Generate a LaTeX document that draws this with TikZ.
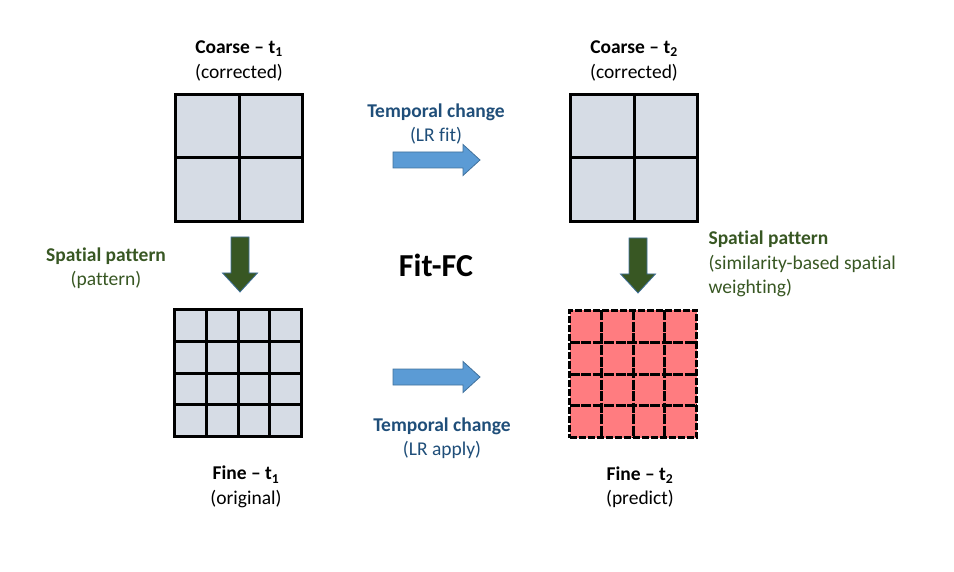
\documentclass[tikz,border=0pt]{standalone}
\usepackage{fontspec}
\setmainfont{Carlito}[Ligatures={NoCommon}]
\usetikzlibrary{calc}

\definecolor{cellgray}{HTML}{D6DCE5}
\definecolor{cellred}{HTML}{FF7C80}
\definecolor{tempblue}{HTML}{1F4E79}
\definecolor{spatgreen}{HTML}{385723}
\definecolor{arrowblue}{HTML}{5B9BD5}
\definecolor{arrowedge}{HTML}{41719C}

\tikzset{
  gridbox/.style={draw, line width=3pt, minimum size=127pt, inner sep=0pt, outer sep=0pt, fill=cellgray},
  predbox/.style={gridbox, fill=cellred, dash pattern=on 7pt off 2pt},
  gridline/.style={line width=3pt},
  lbl/.style={align=center, font=\fontsize{19.5}{24.5}\selectfont},
  templbl/.style={lbl, text=tempblue},
  spatlbl/.style={lbl, text=spatgreen},
  bluearrow/.style={fill=arrowblue, draw=arrowedge, line width=0.8pt},
  greenarrow/.style={fill=spatgreen, draw=arrowedge, line width=0.8pt},
}

\begin{document}
\begin{tikzpicture}[x=1pt,y=-1pt]
  \useasboundingbox (0,0) rectangle (954,572);

  % the four grids
  \node[gridbox] (coarse1) at (239,158) {};
  \node[gridbox] (coarse2) at (634,158) {};
  \node[gridbox] (fine1) at (238,373) {};
  \node[predbox] (fine2) at (633,374) {};

  \draw[gridline] (coarse1.north) -- (coarse1.south);
  \draw[gridline] (coarse1.west) -- (coarse1.east);
  \draw[gridline] (coarse2.north) -- (coarse2.south);
  \draw[gridline] (coarse2.west) -- (coarse2.east);
  \foreach \f in {0.25,0.5,0.75} {
    \draw[gridline] ($(fine1.north west)!\f!(fine1.north east)$) -- ($(fine1.south west)!\f!(fine1.south east)$);
    \draw[gridline] ($(fine1.north west)!\f!(fine1.south west)$) -- ($(fine1.north east)!\f!(fine1.south east)$);
    \draw[gridline, dash pattern=on 10pt off 1.5pt] ($(fine2.north west)!\f!(fine2.north east)$) -- ($(fine2.south west)!\f!(fine2.south east)$);
    \draw[gridline, dash pattern=on 10pt off 1.5pt] ($(fine2.north west)!\f!(fine2.south west)$) -- ($(fine2.north east)!\f!(fine2.south east)$);
  }

  % block arrows
  \draw[bluearrow, shift={(393,160)}] (0,-8) -- (70,-8) -- (70,-15.5) -- (87,0) -- (70,15.5) -- (70,8) -- (0,8) -- cycle;
  \draw[bluearrow, shift={(393,377)}] (0,-8) -- (70,-8) -- (70,-15.5) -- (87,0) -- (70,15.5) -- (70,8) -- (0,8) -- cycle;
  \draw[greenarrow, shift={(240,237)}] (-9,0) -- (9,0) -- (9,36) -- (17.5,36) -- (0,55) -- (-17.5,36) -- (-9,36) -- cycle;
  \draw[greenarrow, shift={(638,238)}] (-9,0) -- (9,0) -- (9,36) -- (17.5,36) -- (0,55) -- (-17.5,36) -- (-9,36) -- cycle;

  % labels
  \node[lbl] (coarse1lbl) at (239,61) {\textbf{Coarse – t\textsubscript{1}}\\(corrected)};
  \node[lbl] (coarse2lbl) at (634,61) {\textbf{Coarse – t\textsubscript{2}}\\(corrected)};
  \node[lbl] (fine1lbl) at (246,487) {\textbf{Fine – t\textsubscript{1}}\\(original)};
  \node[lbl] (fine2lbl) at (640,487) {\textbf{Fine – t\textsubscript{2}}\\(predict)};
  \node[templbl] (fitlbl) at (436,124) {\textbf{Temporal change}\\(LR fit)};
  \node[templbl] (applylbl) at (442,438) {\textbf{Temporal change}\\(LR apply)};
  \node[spatlbl] (patlbl) at (106,268) {\textbf{Spatial pattern}\\(pattern)};
  \node[spatlbl, align=left, anchor=west] (weightlbl) at (705,264) {\textbf{Spatial pattern}\\(similarity-based spatial\\weighting)};
  \node[font=\fontsize{32}{36}\selectfont\bfseries] (title) at (436,265) {Fit-FC};
\end{tikzpicture}
\end{document}
